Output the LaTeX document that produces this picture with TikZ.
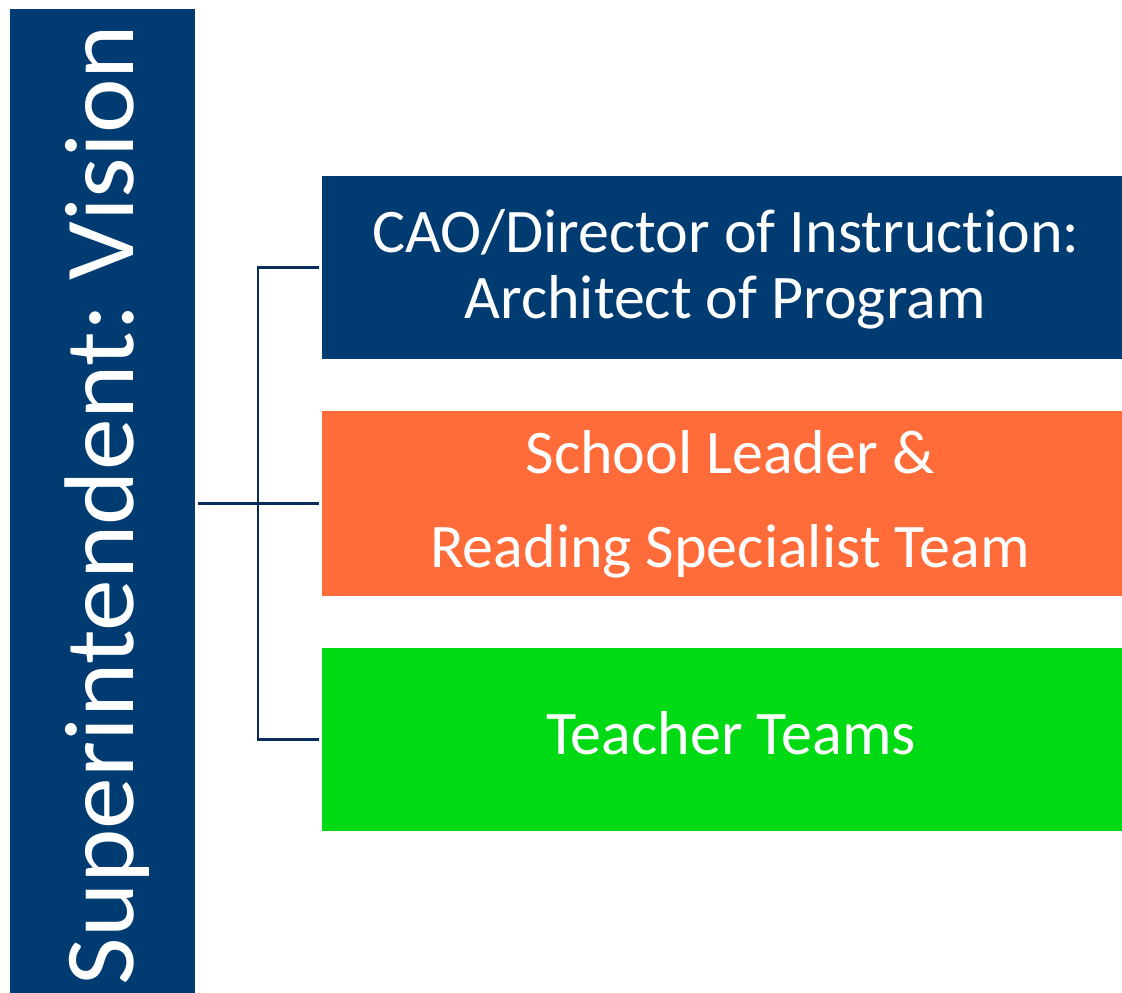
\documentclass[tikz,border=0pt]{standalone}
\usepackage{fontspec}
\setmainfont[Ligatures={NoCommon,TeX}]{Carlito}
\frenchspacing
\definecolor{navy}{RGB}{0,59,113}
\definecolor{linenavy}{RGB}{8,45,90}
\definecolor{orangebox}{RGB}{255,108,58}
\definecolor{greenbox}{RGB}{0,218,20}
\begin{document}
\begin{tikzpicture}[x=1pt,y=-1pt,
  rolebox/.style={rectangle, inner sep=0pt, minimum width=800pt, anchor=west},
  roletext/.style={text=white, inner sep=0pt, anchor=base, font=\fontsize{62}{66}\selectfont},
  conn/.style={draw=linenavy, line width=2.3pt}]
\useasboundingbox[fill=white] (0,0) rectangle (1122,993);
\node[rectangle, fill=navy, inner sep=0pt, minimum width=185pt, minimum height=990pt, anchor=north west] (bar) at (10,9) {};
\node[rotate=90, anchor=base, text=white, font=\fontsize{99}{100}\selectfont, inner sep=0pt] (barlabel) at (133,505) {\scalebox{1.045}[1]{Superintendent: Vision}};
\node[rolebox, fill=navy, minimum height=183pt] (cao) at (322,267.5) {};
\node[rolebox, fill=orangebox, minimum height=185pt] (school) at (322,503.5) {};
\node[rolebox, fill=greenbox, minimum height=183pt] (teacher) at (322,739.5) {};
\node[roletext] (cao1) at (726,252) {CAO/Director of Instruction:};
\node[roletext] (cao2) at (725,318) {Architect of Program};
\node[roletext] (school1) at (730,473) {School Leader \&};
\node[roletext] (school2) at (730,567) {Reading Specialist Team};
\node[roletext] (teacher1) at (731,754) {Teacher Teams};
\coordinate (hub) at (258,503.5);
\coordinate (barout) at (198,503.5);
\coordinate (caoin) at (319,267.5);
\coordinate (schoolin) at (319,503.5);
\coordinate (teacherin) at (319,739.5);
\draw[conn] (barout) -- (hub);
\draw[conn] (caoin) -| (hub);
\draw[conn] (hub) -- (schoolin);
\draw[conn] (teacherin) -| (hub);
\end{tikzpicture}
\end{document}
